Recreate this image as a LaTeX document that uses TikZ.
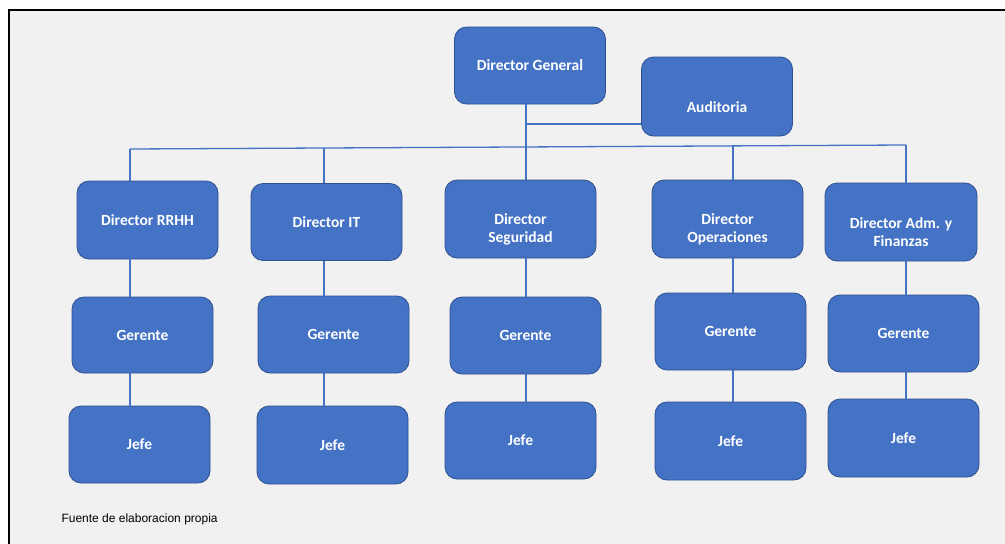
\documentclass[tikz,border=0pt]{standalone}
\usepackage{fontspec}
\setmainfont{Carlito}
\newfontfamily\arialfont{Liberation Sans}
\definecolor{azul}{HTML}{4472C4}
\definecolor{borde}{HTML}{2F528F}
\definecolor{fondo}{HTML}{F1F1F1}
\tikzset{
    caja/.style={draw=borde, line width=0.8pt, fill=azul, rounded corners=12pt,
        text=white, font=\fontsize{15.5}{18.5}\selectfont\bfseries, align=center,
        minimum width=151pt, minimum height=77pt, inner sep=0pt},
    estrecha/.style={minimum width=141pt},
    linea/.style={draw=azul, line width=1.3pt}
}
\begin{document}
\begin{tikzpicture}[x=1pt, y=-1pt]
            \useasboundingbox (0,0) rectangle (1005,544);

            % fondo y marco
            \fill[fondo] (9,10) rectangle (1005,544);
            \draw[black, line width=2.5pt] (1005,10) -- (9,10) -- (9,544);

            % direccion
            \node[caja] (dg) at (530,65.5) {Director General};
            \node[caja, minimum height=79pt] (aud) at (717,96.5) {\strut\\Auditoria};

            % directores
            \node[caja, estrecha, minimum height=78pt] (d1) at (147.5,220) {Director RRHH};
            \node[caja] (d2) at (326.5,222) {Director IT};
            \node[caja, minimum height=78pt] (d3) at (520.5,219) {\strut\\Director\\Seguridad};
            \node[caja, minimum height=78pt] (d4) at (727.5,219) {\strut\\Director\\Operaciones};
            \node[caja, minimum width=152pt, minimum height=78pt] (d5) at (901,222) {\strut\\Director Adm. y\\Finanzas};

            % gerentes
            \node[caja, estrecha, minimum height=76pt] (g1) at (142.5,335) {Gerente};
            \node[caja] (g2) at (333.5,334.5) {Gerente};
            \node[caja] (g3) at (525.5,335.5) {Gerente};
            \node[caja] (g4) at (730.5,331.5) {Gerente};
            \node[caja] (g5) at (903.5,333.5) {Gerente};

            % jefes
            \node[caja, estrecha] (j1) at (139.5,444.5) {Jefe};
            \node[caja, minimum height=78pt] (j2) at (332.5,445) {Jefe};
            \node[caja] (j3) at (520.5,440.5) {Jefe};
            \node[caja, minimum height=78pt] (j4) at (730.5,441) {Jefe};
            \node[caja, minimum height=78pt] (j5) at (903.5,438) {Jefe};

            % conectores
            \coordinate (b1) at (130,149);
            \coordinate (b2) at (324,148);
            \coordinate (b3) at (526,147);
            \coordinate (b4) at (733,146);
            \coordinate (b5) at (906,145);
            \coordinate (ka) at (526,124);

            \draw[linea] (b1) -- (b5);
            \draw[linea] (dg.south -| b3) -- (b3);
            \draw[linea] (ka) -- (ka -| aud.west);

            \foreach \i in {1,...,5} {
                \draw[linea] (b\i) -- (b\i |- d\i.north);
                \draw[linea] (b\i |- d\i.south) -- (b\i |- g\i.north);
                \draw[linea] (b\i |- g\i.south) -- (b\i |- j\i.north);
            }

            \node[anchor=base west, font=\arialfont\fontsize{12}{14}\selectfont] (fuente) at (58,522.5) {Fuente de elaboracion propia};
        \end{tikzpicture}
\end{document}
